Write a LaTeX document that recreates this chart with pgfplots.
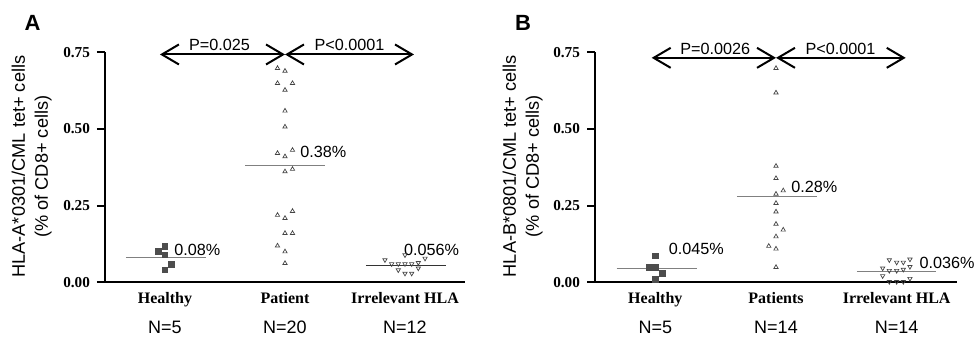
\documentclass[border=0pt]{standalone}
\usepackage{fontspec}
\setmainfont{Liberation Sans}
\newfontfamily\tnr{Liberation Serif}
\usepackage{pgfplots}
\pgfplotsset{compat=1.18}
\usetikzlibrary{arrows.meta}
\definecolor{mk}{HTML}{4D4D4D}
\definecolor{tri}{HTML}{444444}
\definecolor{meanc}{HTML}{808080}

\pgfplotsset{
 panel/.style={
  scale only axis, height=115pt,
  xmin=0.5, xmax=3.5, ymin=0, ymax=0.75,
  axis x line*=bottom, axis y line*=left,
  axis line style={-, line width=1pt},
  every outer x axis line/.append style={-},
  every outer y axis line/.append style={-},
  clip=false,
  ytick={0,0.25,0.5,0.75},
  yticklabels={0.00,0.25,0.50,0.75},
  yticklabel style={font=\tnr\bfseries\fontsize{7.6}{9}\selectfont},
  xtick={1,2,3},
  xticklabel style={font=\tnr\bfseries\fontsize{8}{9}\selectfont, yshift=2.5pt},
  tick align=outside,
  major tick length=4pt,
  ytick style={line width=1pt, black},
  xtick style={draw=none},
  ylabel style={font=\fontsize{9.1}{11.5}\selectfont, align=center, anchor=center},
 },
 sq/.style={only marks, mark=square*, mark size=1.4pt, color=mk},
 up/.style={only marks, mark=triangle, mark size=1.25pt, color=tri, mark options={line width=0.35pt}},
 dn/.style={only marks, mark=triangle, mark size=1.25pt, color=tri, mark options={line width=0.35pt, rotate=180}},
 mn/.style={no marks, color=meanc, line width=0.6pt},
}
\tikzset{
 pv/.style={font=\fontsize{8.1}{9}\selectfont},
 ann/.style={font=\fontsize{8.1}{9}\selectfont, anchor=west, inner sep=0pt},
 nl/.style={font=\fontsize{9}{10}\selectfont},
 arr/.style={line width=1pt, {Straight Barb[length=8.5pt,width=10pt]}-{Straight Barb[length=8.5pt,width=10pt]}},
}

\begin{document}
\begin{tikzpicture}
\path[use as bounding box] (0,0) rectangle (487.5pt,168.5pt);

% Panel A
\begin{axis}[panel, width=180pt, at={(52.5pt,27.35pt)}, anchor=south west,
  xticklabels={Healthy,Patient,Irrelevant HLA},
  ylabel={HLA-A*0301/CML tet+ cells\\(\% of CD8+ cells)},
  ylabel style={at={(axis description cs:-0.204,0.503)}}]
\addplot[sq] coordinates {(0.945,0.100) (1.0,0.118) (1.0,0.089) (1.055,0.059) (1.0,0.040)};
\addplot[up] coordinates {
(1.9375,0.698) (2,0.689)
(1.9375,0.649) (2,0.627) (2.0625,0.649)
(2,0.559) (2,0.507)
(1.9375,0.421) (2,0.410) (2.0625,0.431)
(2,0.361) (2.0625,0.369)
(1.9375,0.219) (2,0.209) (2.0625,0.232)
(2,0.160) (2.0625,0.160)
(1.9375,0.119) (2,0.100)
(2,0.062)};
\addplot[dn] coordinates {(2.833,0.073) (2.889,0.060) (2.944,0.060) (3.0,0.060) (3.056,0.060) (3.111,0.064) (3.167,0.078) (3.0,0.089) (2.944,0.040) (3.0,0.029) (3.056,0.029) (3.111,0.046)};
\addplot[mn] coordinates {(0.675,0.08) (1.34,0.08)};
\addplot[mn] coordinates {(1.67,0.38) (2.33,0.38)};
\addplot[mn, color=black!80] coordinates {(2.675,0.056) (3.34,0.056)};
\node[ann] at (axis cs:1.075,0.105) {0.08\%};
\node[ann] at (axis cs:2.125,0.425) {0.38\%};
\node[ann] at (axis cs:2.99,0.105) {0.056\%};
\draw[arr] (axis cs:0.958,0.743) -- (axis cs:2,0.743);
\draw[arr] (axis cs:2,0.743) -- (axis cs:3.075,0.743);
\node[pv] at (axis cs:1.454,0.774) {P=0.025};
\node[pv] at (axis cs:2.5375,0.774) {P<0.0001};
\node[nl] at (axis cs:1,0) [yshift=-22.6pt] {N=5};
\node[nl] at (axis cs:2,0) [yshift=-22.6pt] {N=20};
\node[nl] at (axis cs:3,0) [yshift=-22.6pt] {N=12};
\end{axis}

% Panel B
\begin{axis}[panel, width=181pt, at={(297.5pt,27.35pt)}, anchor=south west,
  xticklabels={Healthy,Patients,Irrelevant HLA},
  ylabel={HLA-B*0801/CML tet+ cells\\(\% of CD8+ cells)},
  ylabel style={at={(axis description cs:-0.2,0.505)}}]
\addplot[sq] coordinates {(1.0,0.086) (0.945,0.049) (1.0,0.049) (1.06,0.029) (1.0,0.010)};
\addplot[up] coordinates {
(2,0.698) (2,0.618) (2,0.379) (2,0.339)
(2,0.288) (2.06,0.299) (2,0.258) (2,0.230)
(2,0.190) (2.06,0.171) (2,0.149)
(1.94,0.118) (2,0.109) (2,0.049)};
\addplot[dn] coordinates {(2.939,0.073) (3.0,0.065) (3.055,0.065) (3.11,0.075) (2.884,0.046) (2.939,0.038) (3.0,0.038) (3.055,0.042) (3.11,0.051) (2.884,0.021) (2.939,0.002) (3.0,0.002) (3.055,0.002) (3.11,0.012)};
\addplot[mn] coordinates {(0.68,0.045) (1.345,0.045)};
\addplot[mn] coordinates {(1.675,0.28) (2.34,0.28)};
\addplot[mn] coordinates {(2.67,0.036) (3.33,0.036)};
\node[ann] at (axis cs:1.108,0.108) {0.045\%};
\node[ann] at (axis cs:2.124,0.310) {0.28\%};
\node[ann] at (axis cs:3.187,0.062) {0.036\%};
\draw[arr] (axis cs:0.97,0.732) -- (axis cs:2,0.732);
\draw[arr] (axis cs:2,0.732) -- (axis cs:3.075,0.732);
\node[pv] at (axis cs:1.497,0.761) {P=0.0026};
\node[pv] at (axis cs:2.534,0.761) {P<0.0001};
\node[nl] at (axis cs:1,0) [yshift=-22.6pt] {N=5};
\node[nl] at (axis cs:2,0) [yshift=-22.6pt] {N=14};
\node[nl] at (axis cs:3,0) [yshift=-22.6pt] {N=14};
\end{axis}

\node[font=\bfseries\fontsize{11}{12}\selectfont] at (16.25pt,157.25pt) {A};
\node[font=\bfseries\fontsize{11}{12}\selectfont] at (261.5pt,157.25pt) {B};
\end{tikzpicture}
\end{document}
